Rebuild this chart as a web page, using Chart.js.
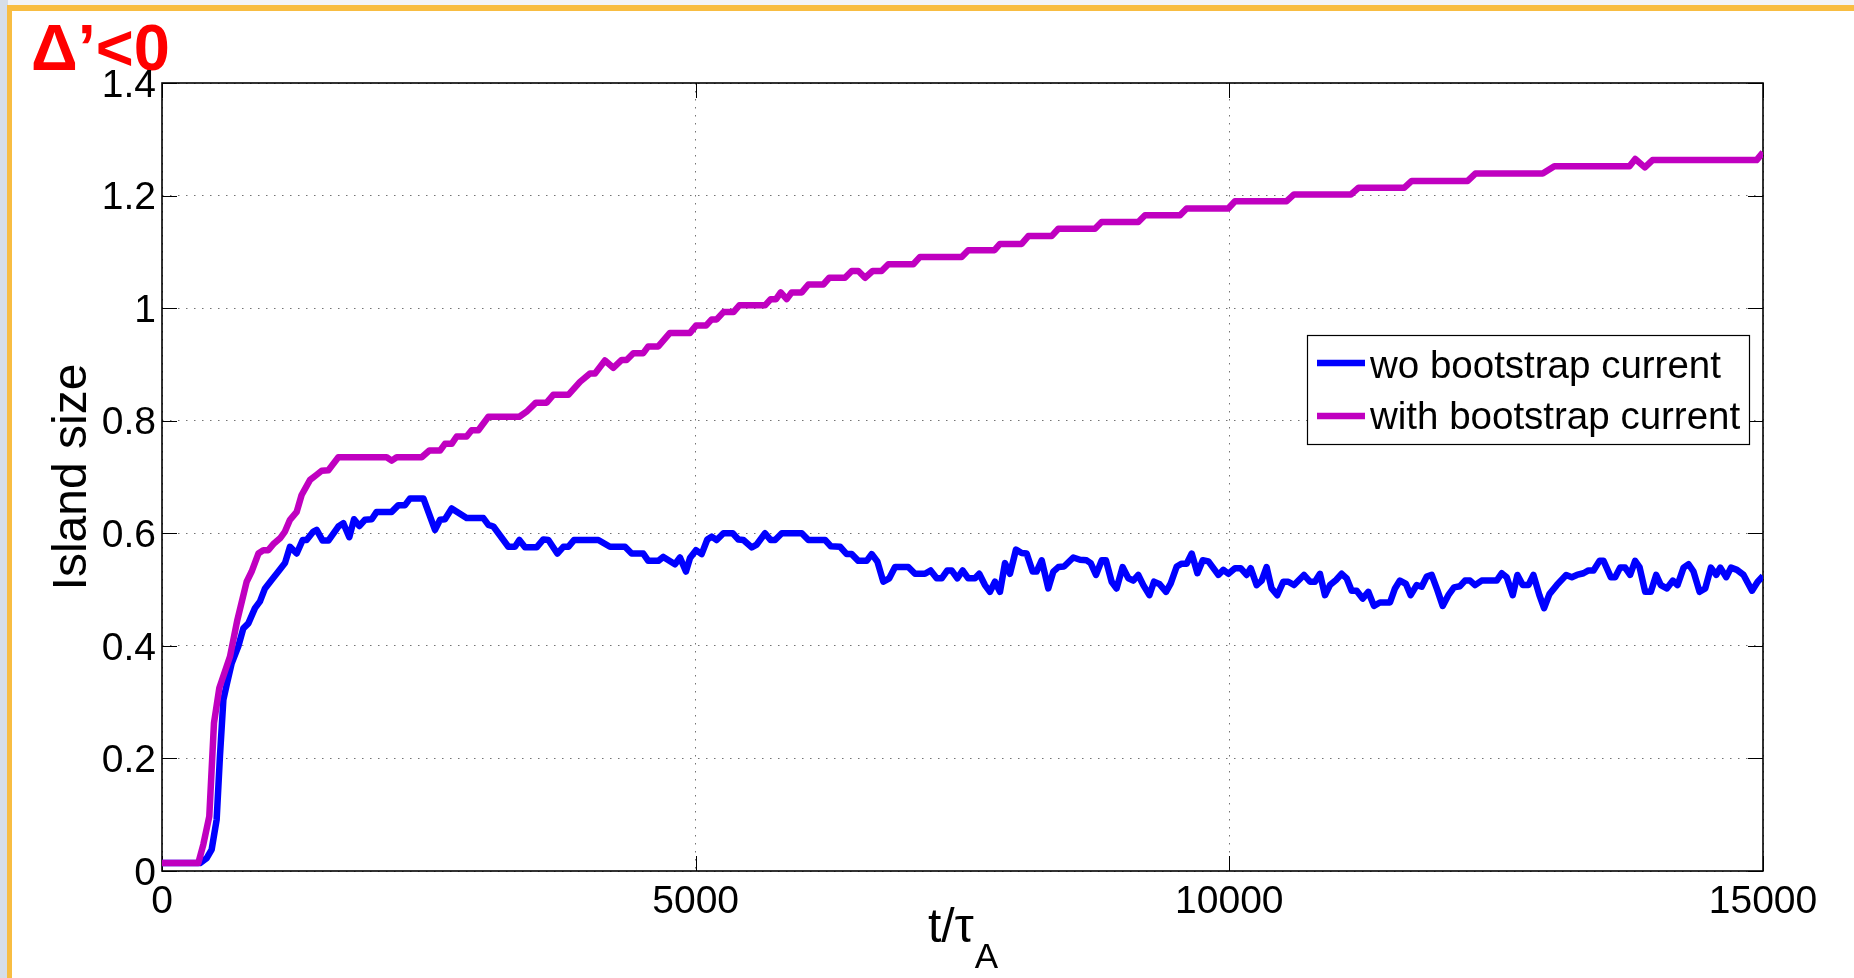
<!DOCTYPE html>
<html>
<head>
<meta charset="utf-8">
<script src="https://cdn.jsdelivr.net/npm/chart.js@4.4.1/dist/chart.umd.min.js"></script>
<style>
  html, body { margin: 0; padding: 0; width: 1854px; height: 978px; overflow: hidden; background: #f3f4f7; }
  #side { position: absolute; left: 0; top: 0; width: 8px; height: 978px; background: #d6dee8; }
  #frame { position: absolute; left: 7px; top: 5px; width: 1870px; height: 1000px; background: #fff;
           border-top: 6px solid #f8bd42; border-left: 5px solid #f8bd42; box-sizing: border-box; }
  #tag { position: absolute; left: 31px; top: 15px; font: bold 65px "Liberation Sans", Arial, sans-serif;
         line-height: 1; color: #ff0000; white-space: nowrap; }
  #wrap { position: absolute; left: 0; top: 0; width: 1854px; height: 978px; }
</style>
</head>
<body>
<div id="side"></div>
<div id="frame"></div>
<div id="tag">Δ’&lt;0</div>
<div id="wrap"><canvas id="c" width="1854" height="978"></canvas></div>
<script>
// Island size versus time, with and without the bootstrap current
const seriesLabels = ['wo bootstrap current', 'with bootstrap current'];

const xTicks = [0, 5000, 10000, 15000];
const xTickLabels = ['0', '5000', '10000', '15000'];
const yTicks = [0, 0.2, 0.4, 0.6, 0.8, 1.0, 1.2, 1.4];
const yTickLabels = ['0', '0.2', '0.4', '0.6', '0.8', '1', '1.2', '1.4'];

// without bootstrap current: time (t/tau_A) and island size
const tWo = [0, 356, 419, 465, 512, 543, 575, 606, 653, 715, 762, 809, 871, 918, 965, 1027, 1090, 1152, 1199, 1262,
  1318, 1355, 1418, 1449, 1505, 1559, 1652, 1699, 1755, 1799, 1849, 1902, 1965, 2011, 2152, 2215, 2277, 2324, 2449, 2558,
  2605, 2651, 2714, 2854, 3011, 3058, 3105, 3245, 3307, 3348, 3401, 3510, 3573, 3620, 3704, 3760, 3807, 3860, 4088, 4197,
  4338, 4400, 4509, 4556, 4650, 4697, 4806, 4853, 4909, 4947, 5003, 5056, 5109, 5150, 5197, 5260, 5347, 5400, 5447, 5525,
  5572, 5650, 5703, 5744, 5807, 5994, 6056, 6213, 6266, 6353, 6415, 6462, 6524, 6602, 6649, 6702, 6758, 6814, 6868, 6992,
  7055, 7148, 7201, 7258, 7305, 7358, 7398, 7452, 7501, 7554, 7617, 7657, 7710, 7757, 7804, 7851, 7898, 7945, 8001, 8054,
  8101, 8157, 8194, 8242, 8304, 8351, 8398, 8451, 8538, 8601, 8663, 8701, 8751, 8804, 8844, 8897, 8944, 9000, 9054, 9100,
  9147, 9194, 9251, 9294, 9344, 9407, 9451, 9507, 9554, 9600, 9648, 9701, 9751, 9804, 9897, 9944, 9991, 10053, 10106, 10162,
  10200, 10256, 10303, 10349, 10396, 10449, 10506, 10552, 10606, 10699, 10755, 10802, 10849, 10896, 10943, 11000, 11053, 11099, 11146, 11193,
  11249, 11302, 11355, 11411, 11505, 11552, 11598, 11655, 11699, 11755, 11802, 11849, 11896, 11949, 11999, 12052, 12105, 12161, 12208, 12255,
  12302, 12364, 12505, 12552, 12599, 12655, 12699, 12749, 12802, 12849, 12905, 12949, 12999, 13068, 13156, 13209, 13256, 13318, 13365, 13412,
  13468, 13506, 13574, 13615, 13661, 13708, 13755, 13802, 13843, 13896, 13949, 13999, 14043, 14099, 14156, 14199, 14256, 14303, 14349, 14406,
  14459, 14512, 14562, 14600, 14656, 14700, 14756, 14818, 14897, 14950, 15000];
const wo = [0.014, 0.014, 0.023, 0.038, 0.091, 0.204, 0.304, 0.331, 0.369, 0.399, 0.431, 0.440, 0.467, 0.479, 0.502, 0.517, 0.532, 0.547, 0.576, 0.564,
  0.588, 0.588, 0.603, 0.606, 0.587, 0.587, 0.612, 0.618, 0.593, 0.625, 0.613, 0.624, 0.625, 0.638, 0.638, 0.650, 0.650, 0.662, 0.662, 0.606,
  0.624, 0.625, 0.644, 0.627, 0.627, 0.615, 0.612, 0.576, 0.576, 0.588, 0.575, 0.575, 0.589, 0.588, 0.564, 0.576, 0.576, 0.588, 0.588, 0.576,
  0.576, 0.564, 0.564, 0.551, 0.551, 0.558, 0.545, 0.557, 0.532, 0.556, 0.570, 0.563, 0.589, 0.594, 0.588, 0.600, 0.600, 0.589, 0.588, 0.575,
  0.580, 0.600, 0.588, 0.588, 0.600, 0.600, 0.588, 0.588, 0.577, 0.576, 0.563, 0.563, 0.551, 0.551, 0.563, 0.550, 0.514, 0.520, 0.540, 0.540,
  0.528, 0.528, 0.534, 0.520, 0.520, 0.534, 0.534, 0.520, 0.534, 0.520, 0.520, 0.528, 0.508, 0.496, 0.514, 0.496, 0.547, 0.528, 0.571, 0.565,
  0.564, 0.532, 0.532, 0.552, 0.502, 0.532, 0.540, 0.541, 0.557, 0.553, 0.552, 0.547, 0.526, 0.552, 0.552, 0.514, 0.502, 0.540, 0.520, 0.516,
  0.526, 0.508, 0.490, 0.514, 0.510, 0.496, 0.511, 0.541, 0.546, 0.546, 0.564, 0.529, 0.552, 0.550, 0.526, 0.535, 0.528, 0.538, 0.538, 0.526,
  0.538, 0.508, 0.516, 0.540, 0.502, 0.490, 0.514, 0.514, 0.508, 0.526, 0.514, 0.514, 0.528, 0.490, 0.508, 0.517, 0.528, 0.520, 0.498, 0.498,
  0.484, 0.496, 0.471, 0.477, 0.477, 0.502, 0.516, 0.510, 0.490, 0.508, 0.505, 0.523, 0.526, 0.499, 0.471, 0.490, 0.504, 0.506, 0.516, 0.516,
  0.508, 0.516, 0.516, 0.529, 0.522, 0.490, 0.526, 0.508, 0.508, 0.526, 0.490, 0.467, 0.492, 0.508, 0.526, 0.522, 0.526, 0.529, 0.534, 0.534,
  0.551, 0.551, 0.522, 0.522, 0.539, 0.539, 0.526, 0.551, 0.540, 0.496, 0.496, 0.526, 0.508, 0.502, 0.516, 0.508, 0.539, 0.545, 0.532, 0.496,
  0.502, 0.539, 0.526, 0.539, 0.522, 0.539, 0.535, 0.526, 0.498, 0.514, 0.524];

// with bootstrap current: time (t/tau_A) and island size
const tWith = [0, 340, 387, 443, 487, 537, 637, 706, 793, 840, 903, 950, 996, 1049, 1106, 1152, 1199, 1262, 1308, 1387,
  1449, 1496, 1559, 1652, 2105, 2152, 2199, 2433, 2505, 2605, 2651, 2714, 2761, 2854, 2901, 2964, 3058, 3348, 3416, 3503,
  3604, 3666, 3807, 3916, 4010, 4057, 4150, 4228, 4307, 4353, 4416, 4509, 4556, 4650, 4759, 4947, 5003, 5097, 5150, 5197,
  5260, 5354, 5409, 5650, 5703, 5753, 5797, 5853, 5900, 5994, 6056, 6196, 6252, 6399, 6462, 6524, 6587, 6658, 6742, 6805,
  7039, 7102, 7492, 7554, 7800, 7851, 8054, 8117, 8335, 8398, 8741, 8803, 9147, 9210, 9538, 9600, 9990, 10053, 10537, 10606,
  11139, 11211, 11640, 11709, 12233, 12305, 12936, 13045, 13749, 13803, 13893, 13965, 14940, 15000];
const withBs = [0.014, 0.014, 0.047, 0.097, 0.263, 0.325, 0.381, 0.446, 0.514, 0.532, 0.564, 0.570, 0.570, 0.582, 0.591, 0.603, 0.624, 0.638, 0.668, 0.695,
  0.704, 0.711, 0.712, 0.735, 0.735, 0.729, 0.735, 0.735, 0.747, 0.747, 0.759, 0.759, 0.772, 0.772, 0.783, 0.783, 0.807, 0.807, 0.816, 0.832,
  0.832, 0.846, 0.846, 0.869, 0.884, 0.884, 0.907, 0.894, 0.908, 0.908, 0.920, 0.920, 0.932, 0.932, 0.956, 0.956, 0.969, 0.969, 0.980, 0.980,
  0.993, 0.993, 1.005, 1.005, 1.016, 1.016, 1.028, 1.016, 1.028, 1.028, 1.042, 1.042, 1.054, 1.054, 1.066, 1.066, 1.054, 1.066, 1.066, 1.078,
  1.078, 1.091, 1.091, 1.103, 1.103, 1.114, 1.114, 1.128, 1.128, 1.141, 1.141, 1.153, 1.153, 1.165, 1.165, 1.177, 1.177, 1.190, 1.190, 1.202,
  1.202, 1.214, 1.214, 1.226, 1.226, 1.239, 1.239, 1.252, 1.252, 1.265, 1.250, 1.263, 1.263, 1.277];

const FONT = '"Liberation Sans", Arial, Helvetica, sans-serif';

const toPoints = (ts, vs) => ts.map((t, i) => ({ x: t, y: vs[i] }));

// Box, inward tick marks, axis titles and the legend, drawn on the chart canvas
const axesBox = {
  id: 'axesBox',
  beforeDatasetsDraw(chart) {
    const { ctx, chartArea: a, scales: { x, y } } = chart;
    ctx.save();
    ctx.strokeStyle = '#000';
    ctx.lineWidth = 1;
    const tl = 15;
    ctx.beginPath();
    yTicks.forEach(v => {
      const py = Math.round(y.getPixelForValue(v)) + 0.5;
      ctx.moveTo(a.left, py); ctx.lineTo(a.left + tl, py);
      ctx.moveTo(a.right, py); ctx.lineTo(a.right - tl, py);
    });
    xTicks.forEach(v => {
      const px = Math.round(x.getPixelForValue(v)) + 0.5;
      ctx.moveTo(px, a.bottom); ctx.lineTo(px, a.bottom - tl);
      ctx.moveTo(px, a.top); ctx.lineTo(px, a.top + tl);
    });
    ctx.stroke();
    ctx.lineWidth = 1.6;
    ctx.strokeRect(a.left, a.top, a.right - a.left, a.bottom - a.top);
    ctx.restore();
  },
  afterDraw(chart) {
    const { ctx, chartArea: a } = chart;
    ctx.save();
    ctx.fillStyle = '#000';
    // x axis title with subscript
    const main = 't/τ', sub = 'A';
    ctx.font = `48px ${FONT}`;
    const wMain = ctx.measureText(main).width;
    ctx.font = `35px ${FONT}`;
    const wSub = ctx.measureText(sub).width;
    const cx = (a.left + a.right) / 2;
    const x0 = cx - (wMain + wSub) / 2;
    ctx.textBaseline = 'alphabetic';
    ctx.textAlign = 'left';
    ctx.font = `48px ${FONT}`;
    ctx.fillText(main, x0, 942);
    ctx.font = `35px ${FONT}`;
    ctx.fillText(sub, x0 + wMain + 1, 968);
    // y axis title
    ctx.save();
    ctx.translate(86, (a.top + a.bottom) / 2);
    ctx.rotate(-Math.PI / 2);
    ctx.font = `48px ${FONT}`;
    ctx.textAlign = 'center';
    ctx.fillText('Island size', 0, 0);
    ctx.restore();
    // legend
    const box = { l: 1307, t: 335, r: 1749, b: 444 };
    ctx.fillStyle = '#fff';
    ctx.fillRect(box.l, box.t, box.r - box.l, box.b - box.t);
    ctx.strokeStyle = '#000';
    ctx.lineWidth = 1.2;
    ctx.strokeRect(box.l + 0.5, box.t + 0.5, box.r - box.l, box.b - box.t);
    const rows = [{ ly: 363, by: 378 }, { ly: 416, by: 429 }];
    chart.data.datasets.forEach((ds, i) => {
      const r = rows[i];
      ctx.strokeStyle = ds.borderColor;
      ctx.lineWidth = 6.5;
      ctx.beginPath();
      ctx.moveTo(1317, r.ly); ctx.lineTo(1365, r.ly);
      ctx.stroke();
      ctx.fillStyle = '#000';
      ctx.font = `38.5px ${FONT}`;
      ctx.textAlign = 'left';
      ctx.textBaseline = 'alphabetic';
      ctx.fillText(ds.label, 1370, r.by);
    });
    ctx.restore();
  }
};

const tickFont = { family: FONT, size: 39 };

new Chart(document.getElementById('c').getContext('2d'), {
  type: 'line',
  data: {
    datasets: [
      { label: seriesLabels[0], data: toPoints(tWo, wo), borderColor: '#0000ff', borderWidth: 6.5,
        pointRadius: 0, tension: 0, fill: false, borderJoinStyle: 'round', order: 1 },
      { label: seriesLabels[1], data: toPoints(tWith, withBs), borderColor: '#c000c0', borderWidth: 6.5,
        pointRadius: 0, tension: 0, fill: false, borderJoinStyle: 'round', order: 0 }
    ]
  },
  options: {
    responsive: false,
    animation: false,
    layout: { padding: { left: 0, top: 83, right: 91, bottom: 0 } },
    plugins: { legend: { display: false }, tooltip: { enabled: false } },
    scales: {
      x: {
        type: 'linear', min: 0, max: 15000,
        afterBuildTicks: s => { s.ticks = xTicks.map(v => ({ value: v })); },
        afterFit: s => { s.height = 107; },
        ticks: { font: tickFont, color: '#000', padding: 8, maxRotation: 0, autoSkip: false,
                 callback: (v, i) => xTickLabels[i] },
        grid: { color: 'rgba(0,0,0,0.55)', lineWidth: 1, drawTicks: false },
        border: { display: false, dash: [1.5, 6.5] }
      },
      y: {
        type: 'linear', min: 0, max: 1.4,
        afterBuildTicks: s => { s.ticks = yTicks.map(v => ({ value: v })); },
        afterFit: s => { s.width = 162; },
        ticks: { font: tickFont, color: '#000', padding: 6, labelOffset: 3, autoSkip: false,
                 callback: (v, i) => yTickLabels[i] },
        grid: { color: 'rgba(0,0,0,0.55)', lineWidth: 1, drawTicks: false },
        border: { display: false, dash: [1.5, 6.5] }
      }
    }
  },
  plugins: [axesBox]
});
</script>
</body>
</html>
